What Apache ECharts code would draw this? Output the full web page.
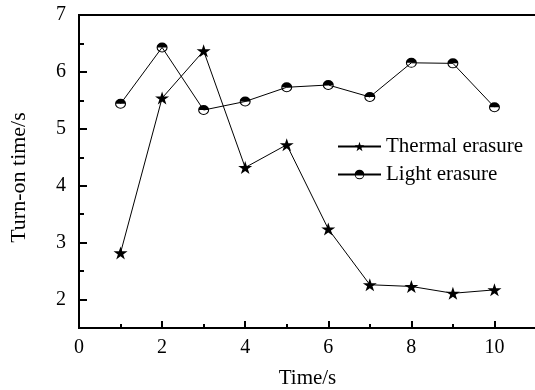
<!DOCTYPE html>
<html>
<head>
<meta charset="utf-8">
<script src="https://cdn.jsdelivr.net/npm/echarts@6/dist/echarts.min.js"></script>
<style>html,body{margin:0;padding:0;background:#fff}#c{width:535px;height:390px}</style>
</head>
<body>
<div id="c"></div>
<script>
var xValues = [1, 2, 3, 4, 5, 6, 7, 8, 9, 10];
var thermalErasure = [2.82, 5.54, 6.37, 4.32, 4.72, 3.24, 2.26, 2.23, 2.11, 2.17];
var lightErasure = [5.44, 6.43, 5.33, 5.48, 5.73, 5.77, 5.56, 6.16, 6.15, 5.38];
var seriesNames = ['Thermal erasure', 'Light erasure'];
var xMajorTicks = [0, 2, 4, 6, 8, 10];
var xMinorTicks = [1, 3, 5, 7, 9];
var yMajorTicks = [2, 3, 4, 5, 6, 7];
var yMinorTicks = [2.5, 3.5, 4.5, 5.5, 6.5];
var xTitle = 'Time/s';
var yTitle = 'Turn-on time/s';

var FONT = "'Liberation Serif', 'Times New Roman', serif";
var STAR = 'path://M10 0L12.245 6.91L19.511 6.91L13.633 11.18L15.878 18.09L10 13.82L4.122 18.09L6.367 11.18L0.489 6.91L7.755 6.91Z';
var HALF = 'path://M0 10A10 10 0 0 1 20 10Z M0 10A10 10 0 0 0 20 10L18 10A8 8 0 0 1 2 10Z';

function pairs(xs, ys) { return xs.map(function (x, i) { return [x, ys[i]]; }); }

var chart = echarts.init(document.getElementById('c'), null, { renderer: 'canvas' });
var option = {
  animation: false,
  backgroundColor: '#fff',
  textStyle: { fontFamily: FONT, color: '#000' },
  grid: {
    left: 79, right: -1, top: 15, bottom: 62,
    outerBoundsMode: 'none', containLabel: false,
    show: true, borderColor: '#000', borderWidth: 2, backgroundColor: 'transparent'
  },
  legend: {
    left: 337, top: 136, orient: 'vertical', padding: 0,
    itemWidth: 43, itemHeight: 12, itemGap: 7, textGap: 5,
    textStyle: { fontFamily: FONT, fontSize: 21, color: '#000' },
    data: seriesNames
  },
  xAxis: [{
    type: 'value', min: 0, max: 11, position: 'bottom',
    name: xTitle, nameLocation: 'middle', nameGap: 40,
    nameTextStyle: { fontFamily: FONT, fontSize: 21, color: '#000' },
    axisLine: { lineStyle: { color: '#000', width: 2 } },
    axisTick: { inside: true, length: 7, lineStyle: { color: '#000', width: 2 }, customValues: xMajorTicks },
    axisLabel: { margin: 10, fontFamily: FONT, fontSize: 20, color: '#000', customValues: xMajorTicks },
    splitLine: { show: false }
  }, {
    type: 'value', min: 0, max: 11, position: 'bottom', gridIndex: 0,
    axisLine: { show: false },
    axisTick: { inside: true, length: 4, lineStyle: { color: '#000', width: 2 }, customValues: xMinorTicks },
    axisLabel: { show: false },
    splitLine: { show: false }
  }],
  yAxis: [{
    type: 'value', min: 1.5, max: 7, position: 'left',
    name: yTitle, nameLocation: 'middle', nameGap: 49, nameRotate: 90,
    nameTextStyle: { fontFamily: FONT, fontSize: 22, color: '#000', padding: [0, 12, 0, 0] },
    axisLine: { lineStyle: { color: '#000', width: 2 } },
    axisTick: { inside: true, length: 8, lineStyle: { color: '#000', width: 2 }, customValues: yMajorTicks },
    axisLabel: { margin: 13, fontFamily: FONT, fontSize: 20, color: '#000', customValues: yMajorTicks },
    splitLine: { show: false }
  }, {
    type: 'value', min: 1.5, max: 7, position: 'left', gridIndex: 0,
    axisLine: { show: false },
    axisTick: { inside: true, length: 5, lineStyle: { color: '#000', width: 2 }, customValues: yMinorTicks },
    axisLabel: { show: false },
    splitLine: { show: false }
  }],
  series: [{
    name: seriesNames[0], type: 'line',
    data: pairs(xValues, thermalErasure),
    symbol: STAR, symbolSize: [14, 13], showAllSymbol: true,
    lineStyle: { color: '#000', width: 1 },
    itemStyle: { color: '#000', borderWidth: 0 }
  }, {
    name: seriesNames[1], type: 'line',
    data: pairs(xValues, lightErasure),
    symbol: HALF, symbolSize: [11, 10], showAllSymbol: true,
    lineStyle: { color: '#000', width: 1 },
    itemStyle: { color: '#000', borderWidth: 0 }
  }]
};
chart.setOption(option);
</script>
</body>
</html>
